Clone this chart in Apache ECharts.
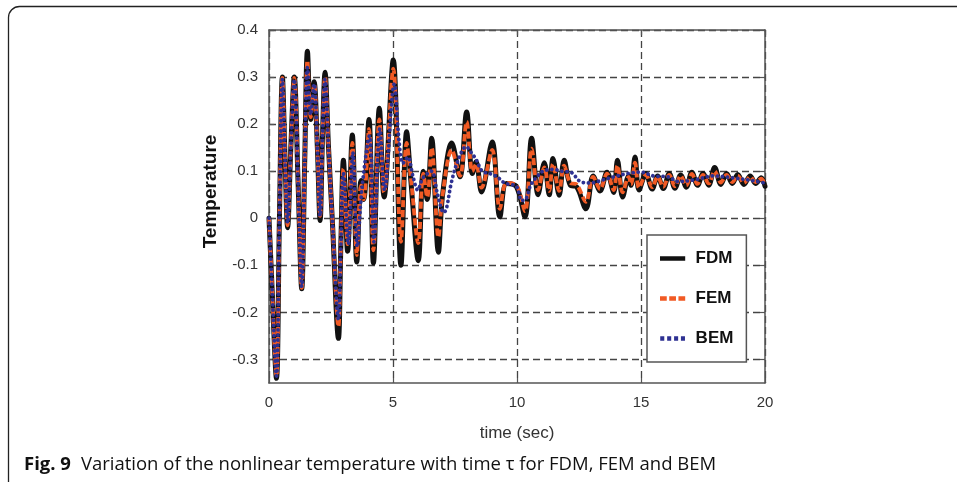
<!DOCTYPE html>
<html>
<head>
<meta charset="utf-8">
<script src="https://cdn.jsdelivr.net/npm/echarts@6/dist/echarts.min.js"></script>
<style>html,body{margin:0;padding:0;background:#fff;}#c{width:957px;height:482px;}</style>
</head>
<body>
<div id="c"></div>
<script>
// time (sec) samples shared by FDM and FEM
var t = [0.00,0.10,0.30,0.42,0.54,0.65,0.75,0.88,1.02,1.17,1.32,1.44,1.55,1.68,1.82,1.95,2.06,2.16,2.26,2.40,2.55,2.80,2.90,3.00,3.17,3.36,3.54,3.71,3.82,4.03,4.21,4.45,4.64,5.01,5.32,5.55,5.72,6.02,6.22,6.38,6.56,6.83,7.00,7.37,7.70,7.97,8.20,8.35,8.57,9.00,9.31,9.58,9.98,10.32,10.59,10.85,11.10,11.30,11.45,11.70,11.90,12.15,12.40,12.78,13.07,13.35,13.63,13.90,14.05,14.26,14.50,14.60,14.76,14.92,15.20,15.45,15.67,15.90,16.14,16.37,16.60,16.83,17.05,17.28,17.50,17.73,17.97,18.22,18.45,18.68,18.90,19.15,19.40,19.62,19.85,20.00];
var fdm = [0.000,-0.120,-0.340,0.000,0.300,0.120,-0.020,0.150,0.300,0.080,-0.150,0.120,0.355,0.210,0.290,0.150,-0.005,0.180,0.310,0.150,0.000,-0.255,-0.050,0.123,-0.070,0.177,-0.093,0.080,0.040,0.210,-0.095,0.234,0.045,0.336,-0.100,0.184,0.080,-0.090,0.100,0.040,0.170,-0.072,0.050,0.160,0.088,0.226,0.095,0.120,0.056,0.162,0.003,0.074,0.067,0.003,0.170,0.050,0.118,0.050,0.127,0.049,0.123,0.070,0.067,0.020,0.090,0.058,0.098,0.055,0.123,0.045,0.090,0.070,0.130,0.060,0.095,0.062,0.090,0.063,0.095,0.064,0.092,0.066,0.098,0.070,0.095,0.070,0.108,0.072,0.095,0.074,0.093,0.072,0.090,0.074,0.086,0.068];
var fem = [0.000,-0.120,-0.335,0.000,0.298,0.120,-0.015,0.150,0.298,0.080,-0.148,0.120,0.335,0.215,0.285,0.150,0.005,0.180,0.300,0.150,0.000,-0.230,-0.050,0.105,-0.055,0.160,-0.078,0.070,0.040,0.190,-0.068,0.210,0.055,0.318,-0.050,0.160,0.085,-0.053,0.095,0.045,0.150,-0.040,0.050,0.145,0.090,0.205,0.100,0.115,0.065,0.145,0.020,0.075,0.070,0.015,0.148,0.060,0.108,0.058,0.115,0.058,0.112,0.075,0.072,0.035,0.088,0.062,0.095,0.060,0.112,0.055,0.088,0.072,0.118,0.065,0.092,0.066,0.088,0.067,0.092,0.068,0.090,0.070,0.094,0.073,0.092,0.074,0.100,0.076,0.092,0.077,0.090,0.075,0.088,0.077,0.084,0.070];
// BEM has its own time samples
var tb = [0.00,0.10,0.30,0.42,0.54,0.65,0.75,0.88,1.02,1.17,1.32,1.44,1.55,1.68,1.82,1.95,2.06,2.16,2.26,2.40,2.55,2.80,2.90,3.00,3.20,3.38,3.56,3.75,4.05,4.23,4.47,4.66,5.05,5.25,5.40,5.60,5.80,6.00,6.20,6.55,6.80,7.05,7.15,7.35,7.60,7.95,8.15,8.35,8.60,8.90,9.20,9.50,9.98,10.19,10.35,10.55,10.85,11.05,11.45,11.80,12.20,12.50,12.80,13.10,13.50,13.90,14.45,15.00,15.50,16.10,16.50,17.20,17.90,18.70,19.50,20.00];
var bem = [0.000,-0.120,-0.335,0.000,0.295,0.120,-0.010,0.150,0.295,0.080,-0.145,0.120,0.320,0.220,0.285,0.150,0.005,0.180,0.295,0.150,0.000,-0.215,-0.050,0.095,-0.055,0.140,-0.060,0.065,0.175,-0.050,0.190,0.060,0.285,0.160,0.117,0.130,0.090,0.060,0.085,0.100,0.050,0.012,0.020,0.075,0.120,0.152,0.140,0.125,0.100,0.095,0.088,0.075,0.067,0.038,0.040,0.070,0.091,0.100,0.104,0.100,0.097,0.080,0.075,0.076,0.082,0.088,0.095,0.098,0.090,0.088,0.078,0.082,0.090,0.086,0.080,0.075];
var seriesNames = ['FDM','FEM','BEM'];
var xTicks = [0,5,10,15,20];
var yTicks = [-0.3,-0.2,-0.1,0,0.1,0.2,0.3,0.4];

function pairs(xs, ys){ var out=[]; for(var i=0;i<xs.length;i++){ out.push([xs[i], ys[i]]); } return out; }

var chart = echarts.init(document.getElementById('c'), null, {renderer:'canvas'});
var axisColor = '#555';
var gridLine = {show:true, lineStyle:{color:'#444', type:[7,4], width:1.3}};
var labelFont = {color:'#333', fontSize:15, fontFamily:'Liberation Sans, Arial, sans-serif'};
function tickStyle(vals){
  var o = {show:true, inside:true, length:5, lineStyle:{color:axisColor, width:1.2}};
  if (vals) o.customValues = vals;
  return o;
}

chart.setOption({
  animation:false,
  backgroundColor:'#fff',
  title:{
    left:19, top:450,
    text:'{b|Fig. 9}  {n|Variation of the nonlinear temperature with time \u03c4 for FDM, FEM and BEM}',
    textStyle:{rich:{
      b:{fontWeight:'bold', fontSize:18.5, color:'#111', fontFamily:'Open Sans, Liberation Sans, sans-serif'},
      n:{fontWeight:'normal', fontSize:18.5, color:'#111', fontFamily:'Open Sans, Liberation Sans, sans-serif'}
    }}
  },
  graphic:[{type:'rect', silent:true, z:-10, shape:{x:8.5, y:6.5, width:1100, height:600, r:11}, style:{fill:'none', stroke:'#222', lineWidth:1.3}}],
  legend:{
    orient:'vertical', left:647, top:235,
    data:[
      {name:'FDM', icon:'path://M0,0h28v5h-28z'},
      {name:'FEM', icon:'path://M0,0h7.5v5h-7.5z M10.25,0h7.5v5h-7.5z M20.5,0h7.5v5h-7.5z'},
      {name:'BEM', icon:'path://M0.5,0h4.5v5h-4.5z M8.2,0h4.5v5h-4.5z M15.9,0h4.5v5h-4.5z M23.5,0h4.5v5h-4.5z'}
    ],
    backgroundColor:'#fff',
    borderColor:'#555', borderWidth:1.5, borderRadius:0,
    padding:[15,13,15,13],
    itemWidth:28, itemHeight:4.5, itemGap:23,
    textStyle:{fontSize:17, fontWeight:'bold', color:'#111', fontFamily:'Liberation Sans, Arial, sans-serif', padding:[0,0,0,4]}
  },
  grid:{left:269, right:192, top:30, bottom:99, containLabel:false},
  xAxis:[{
    type:'value', min:0, max:20, interval:5, position:'bottom',
    name:'time (sec)', nameLocation:'middle', nameGap:42,
    nameTextStyle:{color:'#333', fontSize:17, fontFamily:'Liberation Sans, Arial, sans-serif'},
    axisLine:{show:true, onZero:false, lineStyle:{color:axisColor, width:1.5}},
    axisTick:tickStyle(null),
    axisLabel:Object.assign({margin:12, formatter:function(v){return xTicks.indexOf(v)>=0? String(v):'';}}, labelFont),
    splitLine:gridLine
  },{
    type:'value', min:0, max:20, interval:5, position:'top',
    axisLine:{show:true, onZero:false, lineStyle:{color:axisColor, width:1.5}},
    axisTick:tickStyle(null), axisLabel:{show:false}, splitLine:{show:false}
  }],
  yAxis:[{
    type:'value', min:-0.35, max:0.4, position:'left',
    name:'Temperature', nameLocation:'middle', nameGap:49,
    nameTextStyle:{color:'#111', fontSize:19, fontWeight:'bold', fontFamily:'Liberation Sans, Arial, sans-serif', padding:[0,0,0,30]},
    axisLine:{show:true, onZero:false, lineStyle:{color:axisColor, width:1.5}},
    axisTick:tickStyle(yTicks),
    axisLabel:Object.assign({margin:11, customValues:yTicks, formatter:function(v){
      var r = Math.round(v*10)/10;
      return r === 0 ? '0' : String(r);
    }}, labelFont),
    splitLine:gridLine
  },{
    type:'value', min:-0.35, max:0.4, position:'right',
    axisLine:{show:true, onZero:false, lineStyle:{color:axisColor, width:1.5}},
    axisTick:tickStyle(yTicks), axisLabel:{show:false}, splitLine:{show:false}
  }],
  series:[
    {name:'FDM', type:'line', data:pairs(t, fdm), showSymbol:false, symbol:'none', smooth:0.35, z:2,
     lineStyle:{color:'#111', width:5, type:'solid', cap:'round', join:'round'}, itemStyle:{color:'#111'}},
    {name:'FEM', type:'line', data:pairs(t, fem), showSymbol:false, symbol:'none', smooth:0.35, z:3,
     lineStyle:{color:'#f15a24', width:3.8, type:[7,3], join:'round'}, itemStyle:{color:'#f15a24'}},
    {name:'BEM', type:'line', data:pairs(tb, bem), showSymbol:false, symbol:'none', smooth:0.35, z:4,
     lineStyle:{color:'#2e3192', width:3.8, type:[0.1,5], cap:'round', join:'round'}, itemStyle:{color:'#2e3192'}}
  ]
});
</script>
</body>
</html>
